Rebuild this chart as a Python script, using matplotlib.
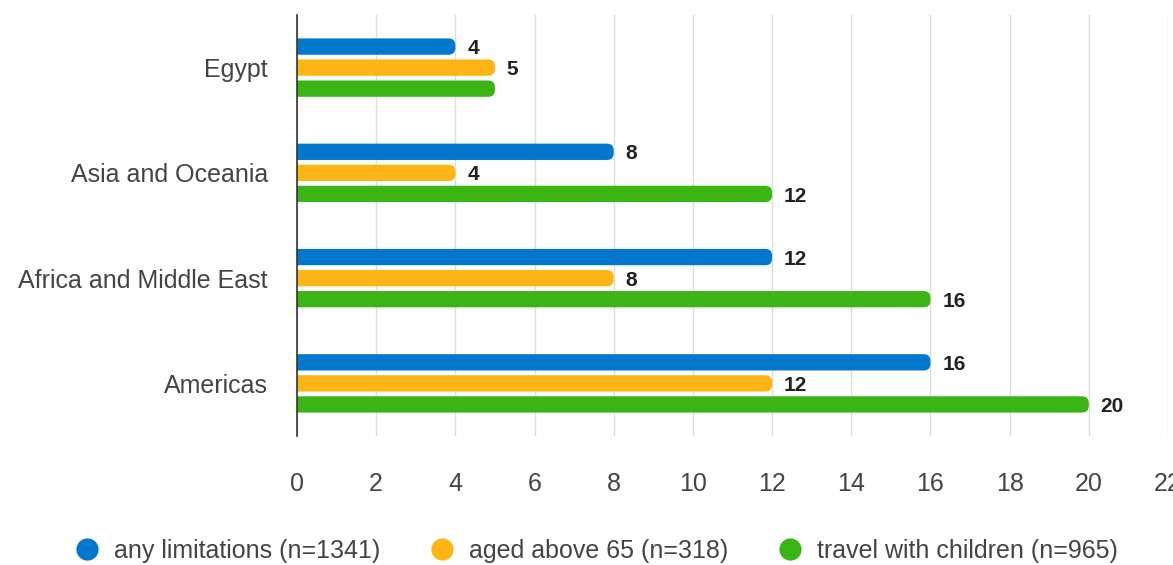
import matplotlib.pyplot as plt
from matplotlib.patches import FancyBboxPatch

plt.rcParams["font.family"] = ["Liberation Sans", "DejaVu Sans"]

categories = ["Egypt", "Asia and Oceania", "Africa and Middle East", "Americas"]
series_names = ["any limitations (n=1341)", "aged above 65 (n=318)", "travel with children (n=965)"]
any_limitations = [4, 8, 12, 16]
aged_above_65 = [5, 4, 8, 12]
travel_children = [5, 12, 16, 20]
# Egypt / travel with children carries no value label in the source
show_label = [
    [True, True, True, True],
    [True, True, True, True],
    [False, True, True, True],
]
x_ticks = [0, 2, 4, 6, 8, 10, 12, 14, 16, 18, 20, 22]

colors = ["#0377cc", "#fdb515", "#3bb515"]
text_color = "#444444"

fig = plt.figure(figsize=(11.73, 5.65), dpi=100)
ax = fig.add_axes([0.2532, 0.2283, 0.7425, 0.7452])

series = [any_limitations, aged_above_65, travel_children]
offsets = [-0.2, 0.0, 0.2]
bar_h = 0.155
# px per data unit: x ~39.6, y ~105.3 -> keep corners circular
aspect = 39.6 / 105.3

for s_idx, (vals, off, col) in enumerate(zip(series, offsets, colors)):
    bars = ax.barh([i + off for i in range(len(categories))], vals, height=bar_h)
    for i, bar in enumerate(bars):
        x0, y0 = bar.get_x(), bar.get_y()
        w, h = bar.get_width(), bar.get_height()
        bar.remove()
        # extend left under the axis so only the right end looks rounded
        patch = FancyBboxPatch(
            (x0 - 0.4, y0), w + 0.4, h,
            boxstyle="round,pad=0,rounding_size=0.17",
            mutation_aspect=aspect,
            facecolor=col, edgecolor="none", zorder=3,
        )
        ax.add_patch(patch)
        if show_label[s_idx][i]:
            ax.text(w + 0.3, y0 + h / 2 + 0.02, f"{vals[i]}", ha="left", va="center",
                    fontsize=15, fontweight="bold", color="#222222", zorder=4)

ax.set_xlim(0, 22)
ax.set_ylim(3.5, -0.5)
ax.set_xticks(x_ticks)
ax.set_yticks(range(len(categories)))
ax.set_yticklabels(categories)
ax.tick_params(axis="both", length=0, labelsize=18, labelcolor=text_color)
ax.tick_params(axis="y", pad=21)
ax.tick_params(axis="x", pad=26)
ax.grid(axis="x", color="#dddddd", linewidth=1, zorder=0)
ax.set_axisbelow(True)
for side in ["top", "right", "bottom"]:
    ax.spines[side].set_visible(False)
ax.spines["left"].set_color("#333333")
ax.spines["left"].set_linewidth(1.2)
ax.spines["left"].set_zorder(5)

handles = [plt.Line2D([], [], marker="o", linestyle="none", markersize=16,
                      markerfacecolor=c, markeredgecolor="none") for c in colors]
fig.legend(handles, series_names, loc="lower center", bbox_to_anchor=(0.5055, -0.036),
           ncol=3, frameon=False, fontsize=18, labelcolor=text_color,
           handlelength=1.5, handletextpad=0.3, columnspacing=1.75)

fig.savefig("out.png", dpi=100)
